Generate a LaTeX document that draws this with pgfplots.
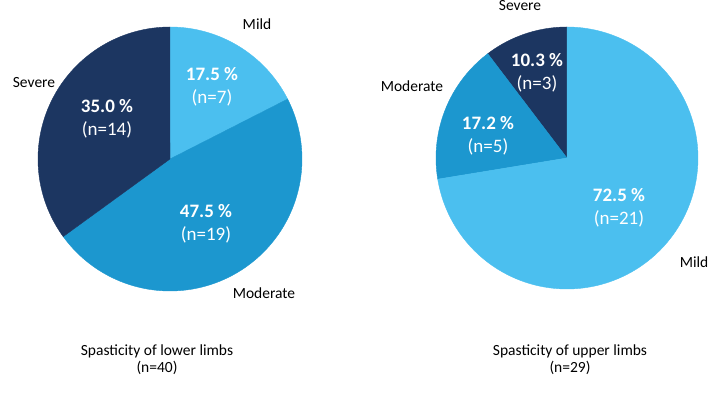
\documentclass[border=0pt]{standalone}
\usepackage{pgfplots}
\pgfplotsset{compat=1.18}
\usepackage{fontspec}
\setmainfont{Carlito}
\definecolor{cLight}{HTML}{4BBFEF}
\definecolor{cMed}{HTML}{1C97CF}
\definecolor{cDark}{HTML}{1C3661}
\begin{document}
\begin{tikzpicture}
\begin{axis}[
  width=709bp, height=398bp, scale only axis,
  xmin=0, xmax=709, ymin=-398, ymax=0,
  hide axis, clip=false,
]
% ---- Lower limbs (n=40): Mild 7, Moderate 19, Severe 14 ----
\addplot[fill=cLight, draw=cLight, domain={90-360*7/40}:90, samples=80, variable=\t]
  ({170+132*cos(\t)},{-159+132*sin(\t)}) -- (axis cs:170,-159) -- cycle;
\addplot[fill=cMed, draw=cMed, domain={90-360*(7+19)/40}:{90-360*7/40}, samples=120, variable=\t]
  ({170+132*cos(\t)},{-159+132*sin(\t)}) -- (axis cs:170,-159) -- cycle;
\addplot[fill=cDark, draw=cDark, domain={90-360*(7+19+14)/40}:{90-360*(7+19)/40}, samples=100, variable=\t]
  ({170+132*cos(\t)},{-159+132*sin(\t)}) -- (axis cs:170,-159) -- cycle;
% ---- Upper limbs (n=29): Severe 3, Moderate 5, Mild 21 ----
\addplot[fill=cDark, draw=cDark, domain=90:{90+360*3/29}, samples=40, variable=\t]
  ({567+131*cos(\t)},{-158+131*sin(\t)}) -- (axis cs:567,-158) -- cycle;
\addplot[fill=cMed, draw=cMed, domain={90+360*3/29}:{90+360*(3+5)/29}, samples=60, variable=\t]
  ({567+131*cos(\t)},{-158+131*sin(\t)}) -- (axis cs:567,-158) -- cycle;
\addplot[fill=cLight, draw=cLight, domain={90+360*(3+5)/29}:{90+360*(3+5+21)/29}, samples=150, variable=\t]
  ({567+131*cos(\t)},{-158+131*sin(\t)}) -- (axis cs:567,-158) -- cycle;

% slice values
\begin{scope}[every node/.append style={text=white, align=center, font=\fontsize{19bp}{23bp}\selectfont}]
\node at (axis cs:212,-87) {\textbf{17.5 \%}\\(n=7)};
\node at (axis cs:107,-119) {\textbf{35.0 \%}\\(n=14)};
\node at (axis cs:206,-224) {\textbf{47.5 \%}\\(n=19)};
\node at (axis cs:537,-73) {\textbf{10.3 \%}\\(n=3)};
\node at (axis cs:488,-136) {\textbf{17.2 \%}\\(n=5)};
\node at (axis cs:619,-208) {\textbf{72.5 \%}\\(n=21)};
\end{scope}
% category labels
\begin{scope}[every node/.append style={font=\fontsize{15.5bp}{18bp}\selectfont}]
\node at (axis cs:257,-24) {Mild};
\node at (axis cs:34,-83) {Severe};
\node at (axis cs:264,-293) {Moderate};
\node at (axis cs:520,-6) {Severe};
\node at (axis cs:412,-86) {Moderate};
\node at (axis cs:694,-262) {Mild};
\end{scope}
% titles
\begin{scope}[every node/.append style={align=center, font=\fontsize{15.5bp}{17bp}\selectfont}]
\node at (axis cs:157,-360) {Spasticity of lower limbs\\(n=40)};
\node at (axis cs:570,-360) {Spasticity of upper limbs\\(n=29)};
\end{scope}
\end{axis}
\pgfresetboundingbox
\path (current axis.south west) rectangle (current axis.north east);
\end{tikzpicture}
\end{document}
